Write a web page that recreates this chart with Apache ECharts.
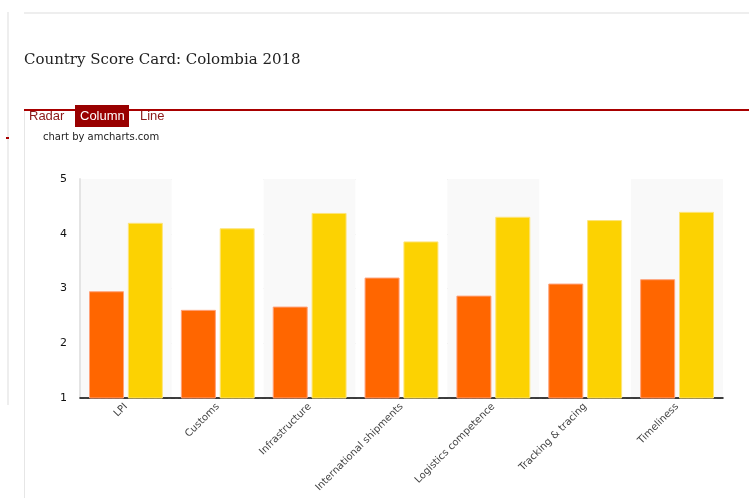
<!DOCTYPE html>
<html>
<head>
<meta charset="utf-8">
<script src="https://cdn.jsdelivr.net/npm/echarts@6/dist/echarts.min.js"></script>
<style>
  html, body { margin: 0; padding: 0; background: #fff; }
  #chart { width: 749px; height: 498px; }
</style>
</head>
<body>
<div id="chart"></div>
<script>
// scores
const categories = ['LPI', 'Customs', 'Infrastructure', 'International shipments', 'Logistics competence', 'Tracking & tracing', 'Timeliness']
const scoreA = [2.95, 2.61, 2.67, 3.20, 2.87, 3.09, 3.17]
const scoreB = [4.20, 4.10, 4.38, 3.86, 4.31, 4.25, 4.40]
const tabs = ['Radar', 'Column', 'Line']

const chart = echarts.init(document.getElementById('chart'))

const option = {
  animation: false,
  title: {
    text: 'Country Score Card: Colombia 2018',
    left: 19,
    top: 48,
    textStyle: {
      fontFamily: 'DejaVu Serif',
      fontWeight: 'normal',
      fontSize: 15,
      color: '#222'
    }
  },
  graphic: [
    // page frame lines
    { type: 'rect', shape: { x: 24, y: 12, width: 725, height: 2 }, style: { fill: '#eeeeee' }, silent: true },
    { type: 'rect', shape: { x: 7, y: 12, width: 2, height: 393 }, style: { fill: '#eeeeee' }, silent: true },
    { type: 'rect', shape: { x: 24, y: 110, width: 1, height: 388 }, style: { fill: '#e6e6e6' }, silent: true },
    { type: 'rect', shape: { x: 24, y: 109, width: 725, height: 2 }, style: { fill: '#a80000' }, silent: true },
    { type: 'rect', shape: { x: 6, y: 137, width: 3, height: 2 }, style: { fill: '#a80000' }, silent: true },
    // tabs
    { type: 'rect', shape: { x: 75, y: 105, width: 54, height: 22 }, style: { fill: '#990000' }, silent: true },
    { type: 'text', left: 29, top: 110, style: { text: tabs[0], fill: '#8b1a1a', font: '13px "Liberation Sans"' } },
    { type: 'text', left: 80, top: 110, style: { text: tabs[1], fill: '#ffffff', font: '13px "Liberation Sans"' } },
    { type: 'text', left: 140, top: 110, style: { text: tabs[2], fill: '#8b1a1a', font: '13px "Liberation Sans"' } },
    { type: 'text', left: 43, top: 132, style: { text: 'chart by amcharts.com', fill: '#222', font: '10px "DejaVu Sans"' } }
  ],
  grid: {
    left: 80,
    right: 26,
    top: 179,
    bottom: 100
  },
  xAxis: {
    type: 'category',
    data: categories,
    axisLine: { lineStyle: { color: '#000', width: 1.5 } },
    axisTick: { alignWithLabel: true, length: 5, lineStyle: { color: '#000' } },
    axisLabel: {
      rotate: 45,
      margin: 7,
      fontFamily: 'DejaVu Sans',
      fontSize: 10,
      color: '#444'
    },
    splitArea: {
      show: true,
      areaStyle: { color: ['#f9f9f9', '#ffffff'] }
    }
  },
  yAxis: {
    type: 'value',
    min: 1,
    max: 5,
    interval: 1,
    axisLine: { show: true, lineStyle: { color: '#e4e4e4', width: 2 } },
    axisTick: { show: false },
    axisLabel: {
      margin: 13,
      fontFamily: 'DejaVu Sans',
      fontSize: 11,
      color: '#111'
    },
    splitLine: {
      lineStyle: { color: '#dddddd', type: [4, 3] }
    }
  },
  series: [
    {
      type: 'bar',
      data: scoreA,
      barWidth: 35,
      barGap: '11%',
      itemStyle: { color: '#ff6600', borderColor: '#ffa27a', borderWidth: 1 }
    },
    {
      type: 'bar',
      data: scoreB,
      barWidth: 35,
      itemStyle: { color: '#fcd202', borderColor: '#fde47a', borderWidth: 1 }
    }
  ]
}

chart.setOption(option)
</script>
</body>
</html>
